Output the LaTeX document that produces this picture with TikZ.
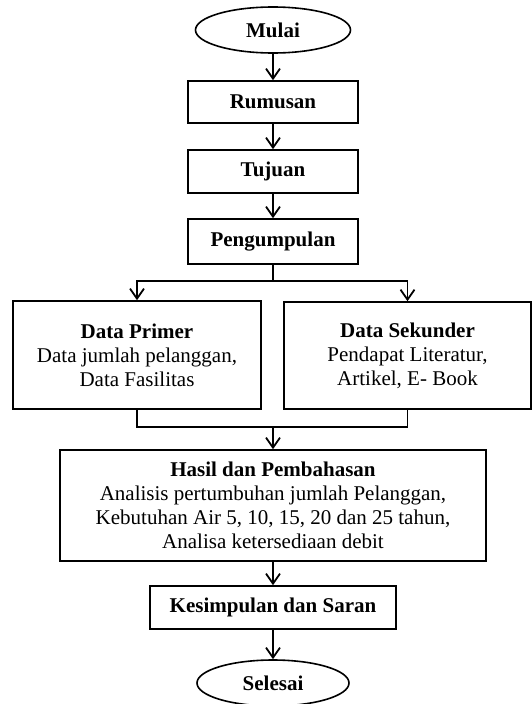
\documentclass[tikz,border=0pt]{standalone}
\usepackage{fontspec}
\setmainfont{Liberation Serif}
\usetikzlibrary{shapes.geometric,arrows.meta}

\begin{document}
\begin{tikzpicture}[x=1pt,y=-1pt,line width=1.6pt,
    >={Straight Barb[length=10pt,width=14pt,line width=1.8pt]},
    box/.style={draw,rectangle,align=center,inner sep=0pt,font=\fontsize{21}{24}\selectfont},
    term/.style={draw,ellipse,inner sep=0pt,font=\fontsize{21}{24}\selectfont\bfseries}]
    \useasboundingbox (0,0) rectangle (532,704);
    \node[term,minimum width=155pt,minimum height=46pt] (mulai) at (273,30) {Mulai};
    \node[box,minimum width=170pt,minimum height=42pt] (rumusan) at (273,102) {\textbf{Rumusan}};
    \node[box,minimum width=170pt,minimum height=43pt] (tujuan) at (273,171.5) {\textbf{Tujuan}};
    \node[box,minimum width=170pt,minimum height=45pt] (pengumpulan) at (273,241.5) {\textbf{Pengumpulan}};
    \node[box,minimum width=248pt,minimum height=108pt] (primer) at (137,355) {\textbf{Data Primer}\\Data jumlah pelanggan,\\Data Fasilitas};
    \node[box,minimum width=247pt,minimum height=107pt] (sekunder) at (407.5,355.5) {\textbf{Data Sekunder}\\Pendapat Literatur,\\Artikel, E- Book};
    \node[box,minimum width=426pt,minimum height=111pt] (hasil) at (273,505.5) {\textbf{Hasil dan Pembahasan}\\Analisis pertumbuhan jumlah Pelanggan,\\Kebutuhan Air 5, 10, 15, 20 dan 25 tahun,\\Analisa ketersediaan debit};
    \node[box,minimum width=246pt,minimum height=43pt] (kesimpulan) at (273,607.5) {\textbf{Kesimpulan dan Saran}};
    \node[term,minimum width=152pt,minimum height=46pt] (selesai) at (273,683) {Selesai};
    \coordinate (split) at (273,281);
    \coordinate (merge) at (273,427);
    \draw[->] (mulai) -- (rumusan);
    \draw[->] (rumusan) -- (tujuan);
    \draw[->] (tujuan) -- (pengumpulan);
    \draw (pengumpulan.south) -- (split);
    \draw[->] (split) -| (primer.north);
    \draw[->] (split) -| (sekunder.north);
    \draw (primer.south) |- (merge) -| (sekunder.south);
    \draw[->] (merge) -- (hasil.north);
    \draw[->] (hasil) -- (kesimpulan);
    \draw[->] (kesimpulan) -- (selesai);
\end{tikzpicture}
\end{document}
